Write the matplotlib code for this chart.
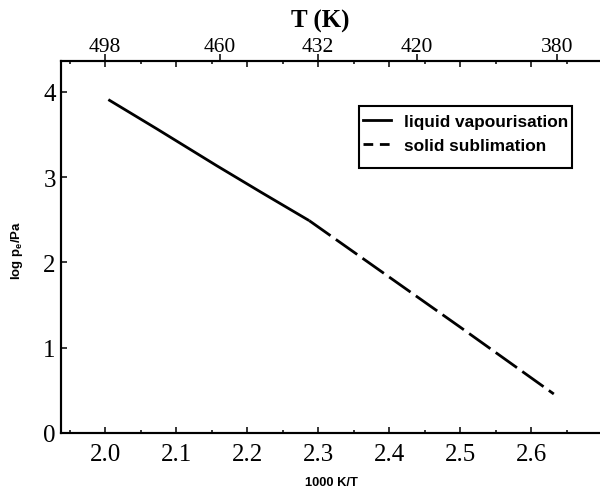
import matplotlib
matplotlib.use('Agg')
import matplotlib.pyplot as plt
from matplotlib.lines import Line2D
from matplotlib.patches import Rectangle
from matplotlib.ticker import MultipleLocator, FixedLocator, FormatStrFormatter

plt.rcParams['font.family'] = 'Liberation Serif'
plt.rcParams['mathtext.fontset'] = 'custom'
plt.rcParams['mathtext.rm'] = 'Liberation Sans:bold'
plt.rcParams['mathtext.bf'] = 'Liberation Sans:bold'

# Datos
liq_x = [2.0047, 2.073, 2.157, 2.22, 2.2875]
liq_y = [3.907, 3.564, 3.134, 2.82, 2.489]
sub_x = [2.2875, 2.5004, 2.632]
sub_y = [2.489, 1.239, 0.457]

# Eje superior T (K)
top_pos = [2.0, 2.162, 2.30, 2.439, 2.636]
top_lab = ['498', '460', '432', '420', '380']

fig = plt.figure(figsize=(6, 4.89), dpi=100)
ax = fig.add_axes([0.1012, 0.1125, 0.9017, 0.7601])

ax.plot(liq_x, liq_y, color='k', lw=2.0, solid_capstyle='butt')
ax.plot(sub_x, sub_y, color='k', lw=2.0, dashes=(9.4, 2.35), dash_capstyle='butt')

ax.set_xlim(1.9376, 2.6995)
ax.set_ylim(0, 4.356)

ax.xaxis.set_major_locator(MultipleLocator(0.1))
ax.xaxis.set_minor_locator(MultipleLocator(0.05))
ax.xaxis.set_major_formatter(FormatStrFormatter('%.1f'))
ax.yaxis.set_major_locator(MultipleLocator(1))
ax.yaxis.set_minor_locator(MultipleLocator(0.5))

# eje superior
axt = ax.twiny()
axt.set_xlim(ax.get_xlim())
axt.xaxis.set_major_locator(FixedLocator(top_pos))
axt.set_xticklabels(top_lab)
axt.minorticks_off()
axt.tick_params(axis='x', direction='out', length=5.3, width=1.1, labelsize=15.5, pad=-1.5)

ax.tick_params(which='both', direction='in', top=True, right=False, width=1.1)
ax.tick_params(which='major', length=4.2)
ax.tick_params(which='minor', length=2.2)
ax.tick_params(axis='x', labelsize=18, pad=7)
ax.tick_params(axis='y', labelsize=18, pad=3.5)

for a in (ax, axt):
    for s in a.spines.values():
        s.set_linewidth(1.5)

fig.text(320/600, 1 - 21.7/489, 'T (K)', ha='center', va='center',
         fontsize=18, fontweight='bold')
fig.text(331/600, 1 - 483/489, '1000 K/T', ha='center', va='center',
         fontsize=9.3, fontweight='bold', family='Liberation Sans')
fig.text(17/600, 1 - 250/489, r'log p$_\mathbf{e}$/Pa', ha='center', va='center',
         rotation=90, fontsize=9.5, fontweight='bold', family='Liberation Sans')

# leyenda: marco dibujado aparte
fig.add_artist(Rectangle((359/600, 1 - 169/489), 212.7/600, 62.3/489,
                         transform=fig.transFigure, fill=False, lw=1.5, ec='k'))
handles = [Line2D([], [], color='k', lw=2.0),
           Line2D([], [], color='k', lw=2.0, dashes=(3.5, 2.4), dash_capstyle='butt')]
leg = ax.legend(handles, ['liquid vapourisation', 'solid sublimation'],
                loc='upper left', bbox_to_anchor=(362.7/600, 1 - 115/489),
                bbox_transform=fig.transFigure, borderaxespad=0, borderpad=0,
                frameon=False, labelspacing=0.5, handlelength=1.62, handletextpad=0.79,
                prop={'family': 'Liberation Sans', 'weight': 'bold', 'size': 12.4})

fig.savefig('out.png', dpi=100)
